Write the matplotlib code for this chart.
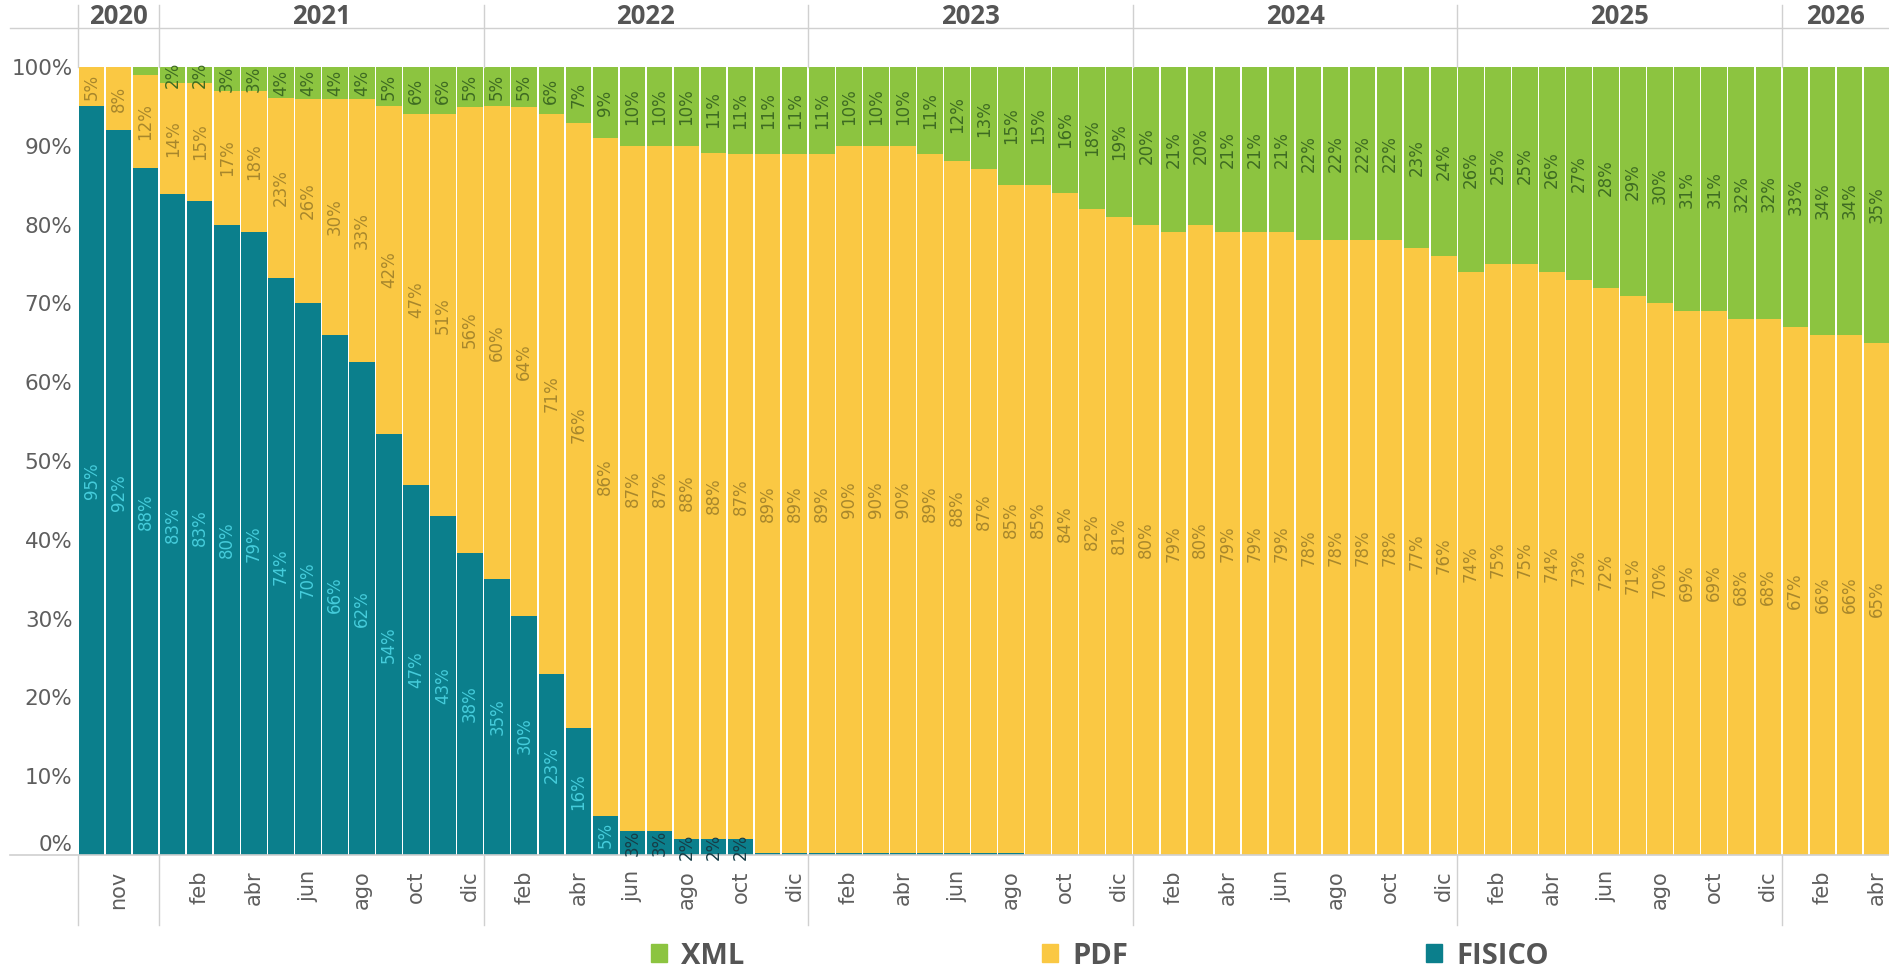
import matplotlib
matplotlib.use("Agg")
import matplotlib.pyplot as plt
import matplotlib.transforms as mtransforms
from matplotlib.patches import Patch
import numpy as np

# datos: participacion mensual por tipo de documento, oct-2020 a abr-2026
years = ["2020", "2021", "2022", "2023", "2024", "2025", "2026"]
months_per_year = [3, 12, 12, 12, 12, 12, 4]

tick_labels = (
    ["", "nov", ""]
    + ["", "feb", "", "abr", "", "jun", "", "ago", "", "oct", "", "dic"] * 5
    + ["", "feb", "", "abr"]
)

fisico = [95, 92, 88,
          83, 83, 80, 79, 74, 70, 66, 62, 54, 47, 43, 38,
          35, 30, 23, 16, 5, 3, 3, 2, 2, 2, 0.2, 0.2,
          0.2, 0.2, 0.2, 0.2, 0.2, 0.2, 0.2, 0.2, 0, 0, 0, 0,
          0, 0, 0, 0, 0, 0, 0, 0, 0, 0, 0, 0,
          0, 0, 0, 0, 0, 0, 0, 0, 0, 0, 0, 0,
          0, 0, 0, 0]

pdf = [5, 8, 12,
       14, 15, 17, 18, 23, 26, 30, 33, 42, 47, 51, 56,
       60, 64, 71, 76, 86, 87, 87, 88, 88, 87, 89, 89,
       89, 90, 90, 90, 89, 88, 87, 85, 85, 84, 82, 81,
       80, 79, 80, 79, 79, 79, 78, 78, 78, 78, 77, 76,
       74, 75, 75, 74, 73, 72, 71, 70, 69, 69, 68, 68,
       67, 66, 66, 65]

xml = [0, 0, 1,
       2, 2, 3, 3, 4, 4, 4, 4, 5, 6, 6, 5,
       5, 5, 6, 7, 9, 10, 10, 10, 11, 11, 11, 11,
       11, 10, 10, 10, 11, 12, 13, 15, 15, 16, 18, 19,
       20, 21, 20, 21, 21, 21, 22, 22, 22, 22, 23, 24,
       26, 25, 25, 26, 27, 28, 29, 30, 31, 31, 32, 32,
       33, 34, 34, 35]

C_FIS = "#0B7F8C"
C_PDF = "#FAC843"
C_XML = "#8CC440"
C_FIS_TXT = "#45CCDB"
C_FIS_DARK = "#173C46"
C_PDF_TXT = "#A8872C"
C_XML_TXT = "#3E6B22"
GRAY = "#5E5E5E"
LINE = "#D0D0D0"

W, H = 1890, 973
fig = plt.figure(figsize=(W / 100, H / 100), dpi=100)
x0, y0, y1 = 78, 855, 67
ax = fig.add_axes([x0 / W, 1 - y0 / H, 1 - x0 / W, (y0 - y1) / H])

f = np.array(fisico, dtype=float)
p = np.array(pdf, dtype=float)
x = np.array(xml, dtype=float)
tot = f + p + x
fh, ph, xh = f / tot * 100, p / tot * 100, x / tot * 100
idx = np.arange(len(f))

bw = 0.945
ax.bar(idx, fh, width=bw, color=C_FIS, linewidth=0)
ax.bar(idx, ph, width=bw, bottom=fh, color=C_PDF, linewidth=0)
ax.bar(idx, xh, width=bw, bottom=fh + ph, color=C_XML, linewidth=0)

lbl_font = dict(family="DejaVu Sans", fontsize=12, rotation=90,
                ha="center", va="center", rotation_mode="anchor")
for i in idx:
    if f[i] >= 2:
        col = C_FIS_DARK if f[i] <= 3 else C_FIS_TXT
        ax.text(i, fh[i] / 2, f"{int(f[i])}%", color=col, **lbl_font)
    if p[i] >= 2:
        ax.text(i, fh[i] + ph[i] / 2, f"{int(p[i])}%", color=C_PDF_TXT, **lbl_font)
    if x[i] >= 2:
        ax.text(i, fh[i] + ph[i] + xh[i] / 2, f"{int(x[i])}%", color=C_XML_TXT, **lbl_font)

ax.set_xlim(-0.5, len(f) - 0.5)
ax.set_ylim(0, 100)
for s in ax.spines.values():
    s.set_visible(False)

ax.set_xticks(idx)
ax.set_xticklabels(tick_labels, rotation=90, va="top", ha="center",
                   fontsize=15, color=GRAY, family="DejaVu Sans")
ax.set_yticks(range(0, 101, 10))
ax.set_yticklabels([f"{v}%" for v in range(0, 101, 10)],
                   fontsize=15.5, color=GRAY, family="DejaVu Sans")
ax.tick_params(axis="x", length=0, pad=11)
ax.tick_params(axis="y", length=0, pad=4)
ax.get_yticklabels()[0].set_va("bottom")

# cabecera de anios y separadores
ph_px = y0 - y1
y_hdr_top = (y0 - 5) / ph_px
y_hdr_line = (y0 - 28) / ph_px
y_hdr_txt = (y0 - 16) / ph_px
y_band_bot = (y0 - 925) / ph_px
x_left = (10 - x0) / (W - x0)

trans = mtransforms.blended_transform_factory(ax.transData, ax.transAxes)
starts = np.cumsum([0] + months_per_year[:-1]) - 0.5
for yr, st, n in zip(years, starts, months_per_year):
    ax.plot([st, st], [1.0, y_hdr_top], transform=trans, clip_on=False,
            color=LINE, lw=1)
    ax.plot([st, st], [0, y_band_bot], transform=trans, clip_on=False,
            color=LINE, lw=1)
    ax.text(st + n / 2, y_hdr_txt, yr, transform=trans, ha="center", va="center",
            fontsize=18.5, fontweight="bold", color="#555555", family="Open Sans")

ax.plot([x_left, 1], [y_hdr_line, y_hdr_line], transform=ax.transAxes,
        clip_on=False, color=LINE, lw=1)
ax.plot([x_left, 1], [0, 0], transform=ax.transAxes,
        clip_on=False, color=LINE, lw=1.2)

handles = [Patch(color=C_XML, label="XML"),
           Patch(color=C_PDF, label="PDF"),
           Patch(color=C_FIS, label="FISICO")]
fig.legend(handles=handles, loc="center", bbox_to_anchor=(1100 / W, 1 - 956 / H),
           ncol=3, frameon=False, handlelength=0.55, handleheight=0.55,
           handletextpad=0.5, columnspacing=10.2, labelcolor="#555555",
           prop=dict(family="Open Sans", weight="bold", size=21))

fig.savefig("out.png", dpi=100)
